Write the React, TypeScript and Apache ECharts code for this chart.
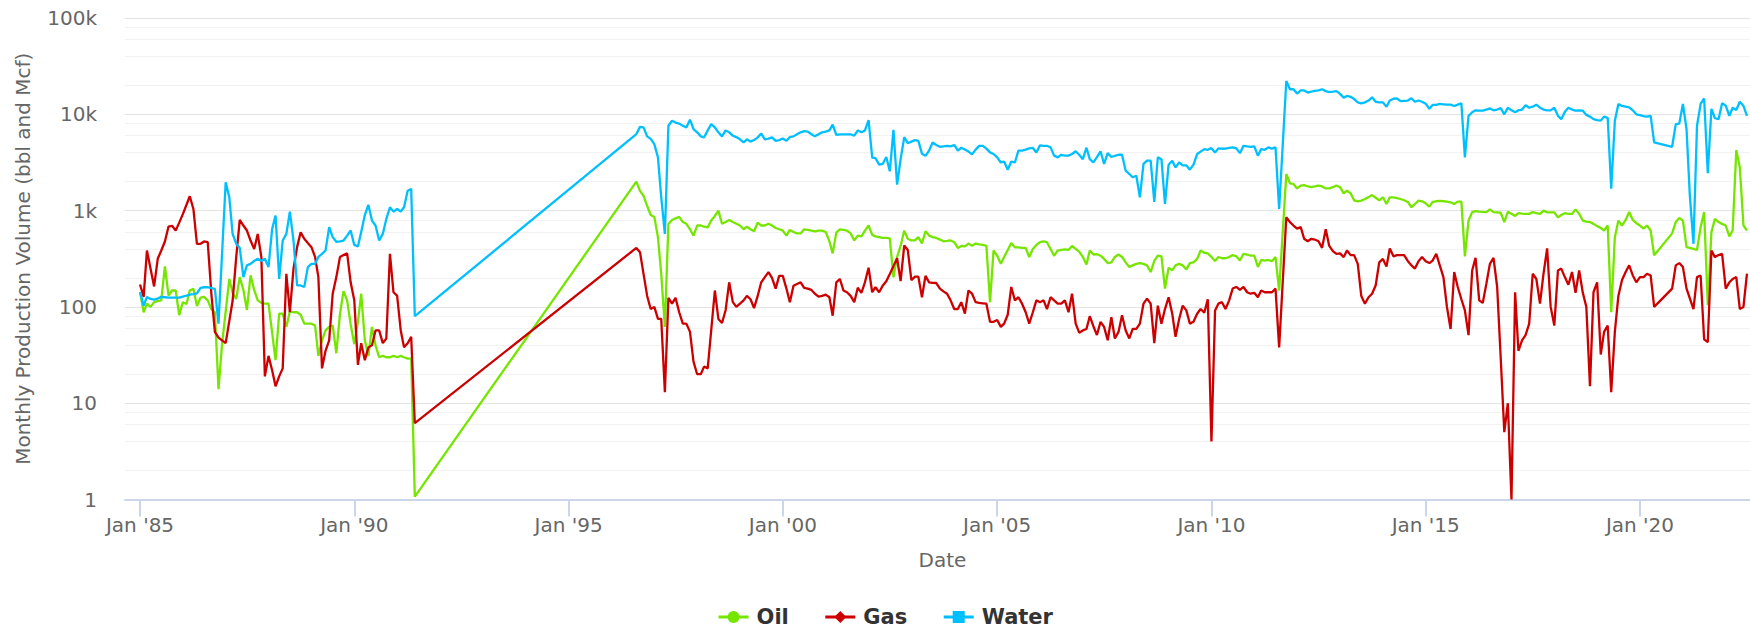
import { useEffect, useRef } from "react";
import * as echarts from "echarts";

// ---- Data (monthly production) ----
const SERIES_NAMES = ["Oil", "Gas", "Water"];
const SEG1_START = "1985-01"; // Jan 1985 .. Jun 1991
const SEG2_START = "1996-08"; // Aug 1996 .. Jul 2022

const oilSeg1 = [143, 88, 108, 100, 112, 115, 117, 263, 131, 148, 148, 82, 112, 107, 148, 154, 102, 125, 127, 117, 95, 88, 14, 41, null, 195, 140, 121, 204, 150, 93, 213, 150, 117, 110, 108, 108, 54, 28, 85, 85, 62, 90, 88, 88, 83, 67, 67, 67, 64, 31, 45, 57, 62, 64, 33, 84, 146, 117, 66, 41, 70, 137, 45, 31, 62, 40, 30, 31, 30, 30, 31, 30, 31, 30, 29, 29, 1.07];
const gasSeg1 = [171, 127, 385, null, 163, 316, 385, 478, 683, 695, 620, 750, 920, 1150, 1410, 1040, 452, 452, 478, 470, 137, 55, 48, 45, 42, null, 115, 330, 800, 700, 621, 489, 400, 573, 329, 19, 31, 22, 15, 19, 23, 221, 88, 250, 420, 595, 510, 460, 417, 330, 204, 23, 35, 45, 137, 204, 329, 345, 360, 180, 117, 25, 42, 28, 38, 40, 57, 57, 42, 47, 356, 142, 131, 57, 38, 42, 49, 6.2];
const waterSeg1 = [143, 103, 127, 121, 119, 122, 127, 126, 125, 125, 125, 125, 128, 131, 134, 136, 138, 158, 160, 160, 157, 154, 67, null, 1963, 1373, 573, 452, 410, 204, 270, 280, 300, 316, 300, 316, 259, 645, 890, 195, 489, 573, 975, 489, 167, 167, 161, 259, 280, 280, 330, 356, 385, 673, 530, 475, 480, 489, 550, 621, 440, 425, 600, 900, 1150, 788, 700, 490, 573, 820, 1084, 975, 1040, 980, 1084, 1610, 1680, 80];

const oilSeg2 = [
  2000, 1600, 1420, 1120, 900,
  860, 530, 220, 62, 727, 800, 830, 860, 760, 730, 640, 550,
  700, 700, 680, 670, 788, 880, 1000, 730, 760, 800, 760, 730,
  700, 640, 680, 640, 610, 750, 700, 700, 730, 700, 660, 640,
  620, 550, 630, 600, 580, 580, 640, 630, 620, 610, 620, 620,
  600, 480, 360, 590, 640, 630, 620, 580, 490, 550, 540, 620,
  700, 560, 540, 530, 520, 520, 515, 203, 330, 430, 620, 510,
  490, 490, 530, 455, 610, 550, 530, 520, 500, 480, 485, 490,
  470, 410, 430, 425, 455, 430, 455, 445, 440, 430, 112, 385,
  340, 280, 330, 390, 460, 415, 415, 410, 410, 329, 400, 440,
  470, 480, 470, 400, 340, 385, 390, 395, 390, 430, 400, 375,
  330, 275, 385, 350, 352, 340, 315, 285, 290, 330, 350, 330,
  290, 260, 270, 280, 285, 280, 270, 230, 300, 340, 335, 155,
  255, 240, 270, 280, 270, 245, 285, 290, 315, 385, 365, 360,
  330, 300, 330, 320, 320, 329, 345, 335, 303, 356, 350, 340,
  340, 260, 307, 303, 307, 298, 329, 148, null, 2400, 1920, 1890,
  1700, 1820, 1840, 1780, 1750, 1780, 1820, 1780, 1700, 1700, 1750, 1820,
  1750, 1510, 1610, 1510, 1280, 1250, 1270, 1320, 1380, 1450, 1360, 1280,
  1375, 1170, 1375, 1375, 1350, 1320, 1280, 1230, 1084, 1170, 1270, 1250,
  1190, 1100, 1230, 1250, 1260, 1250, 1240, 1220, 1170, 1240, 1240, 335,
  788, 965, 985, 975, 970, 965, 1030, 965, 960, 950, 760, 970,
  925, 880, 940, 930, 925, 925, 965, 940, 925, 1000, 960, 960,
  960, 850, 900, 940, 925, 925, 1030, 925, 788, 770, 760, 728,
  690, 660, 621, 700, 88, 530, 788, 700, 800, 965, 800, 740,
  700, 650, 700, 621, 343, null, null, null, null, 580, 760, 840,
  788, 417, 410, 400, 390, 673, 965, 104, 600, 820, 760, 728,
  700, 540, 621, 4250, 2810, 700, 621,
];

const gasSeg2 = [
  410, 370, 220, 130, 95,
  100, 75, 75, 13, 124, 108, 124, 88, 67, 67, 55, 27,
  20, 20, 24, 23, null, 148, 75, 68, 93, 180, 112, 100,
  108, 117, 130, 120, 97, 130, 180, 204, 230, 200, 155, 210,
  210, 155, 112, 166, 173, 180, 158, 155, 150, 137, 128, 130,
  134, 126, 81, 180, 195, 148, 142, 130, 112, 158, 140, 180,
  255, 142, 160, 142, 166, 185, 220, 265, 320, 185, 435, 390,
  190, 206, 206, 126, 210, 180, 178, 177, 155, 145, 137, 117,
  95, 95, 112, 85, 148, 137, 112, 110, 109, 108, 70, 70,
  73, 62, 67, 83, 161, 117, 126, 108, 88, 67, 88, 117,
  112, 117, 95, 126, 117, 108, 108, 117, 88, 137, 67, 54,
  57, 59, 80, 63, 51, 70, 62, 45, 78, 47, 55, 82,
  57, 47, 59, 59, 67, 108, 122, 108, 42, 103, 67, 95,
  126, 85, 49, 75, 103, 92, 67, 70, 85, 95, 87, 120,
  4, 92, 108, 112, 95, 117, 155, 161, 150, 161, 142, 137,
  140, 126, 148, 142, 142, 142, 155, 38, null, 854, 760, 700,
  650, 673, 510, 480, 510, 500, 480, 410, 640, 430, 380, 356,
  360, 329, 385, 345, 345, 280, 130, 108, 126, 137, 168, 290,
  315, 262, 405, 335, 345, 345, 345, 300, 270, 250, 298, 329,
  298, 285, 303, 356, 270, 204, 100, 59, 230, 161, 120, 92,
  51, 239, 323, 117, 110, 174, 280, 323, 161, 30, 5, 10,
  1, 142, 35, 45, 51, 67, 221, 195, 108, 221, 405, 100,
  64, 239, 250, 204, 170, 230, 140, 239, 140, 100, 15, 142,
  180, 32, 55, 64, 13, 55, 130, 190, 230, 270, 212, 180,
  204, 204, 221, 212, 100, null, null, null, null, 155, 270, 285,
  259, 155, null, 95, 204, 212, 46, 43, 385, 329, 345, 356,
  155, 180, 195, 204, 95, 100, 221,
];

const waterSeg2 = [
  6240, 7400, 7310, 5900, 5560,
  4900, 3570, 1375, 573, 7600, 8570, 8200, 8000, 7600, 7300, 8800, 7000,
  6500, 5900, 5760, 6800, 7900, 7300, 6500, 5900, 6800, 6500, 6000, 5800,
  5500, 5100, 5500, 5200, 5400, 5760, 6300, 5500, 5600, 5760, 5300, 5400,
  5600, 5300, 5800, 5900, 6200, 6500, 6700, 6600, 6200, 5900, 6200, 6500,
  6600, 6800, 7800, 6100, 6200, 6200, 6200, 6200, 6000, 6800, 6500, 6800,
  8700, 3550, 3500, 3000, 3050, 3600, 2560, 6900, 1860, 3400, 5800, 5000,
  5200, 5400, 5300, 3900, 3700, 4200, 5100, 4800, 4600, 4650, 4700, 4650,
  4800, 4200, 4500, 4300, 4100, 3830, 4300, 4700, 4700, 4400, 4020, 3870,
  3570, 3160, 3230, 2660, 3230, 3160, 4190, 4190, 4300, 4430, 4470, 4020,
  4760, 4710, 4710, 4540, 3720, 3570, 3800, 3720, 3720, 3870, 4130, 3800,
  3420, 4500, 3420, 3160, 3600, 4130, 3050, 3950, 3600, 3700, 3800, 3800,
  2600, 2400, 2220, 2300, 1375, 3050, 3300, 3300, 1230, 3570, 3420, 1170,
  3000, 3300, 2810, 3160, 2950, 2950, 2660, 3000, 3870, 4100, 4350, 4280,
  4450, 4020, 4430, 4390, 4400, 4470, 4540, 4430, 3950, 4710, 4650, 4600,
  4650, 3720, 4350, 4280, 4540, 4400, 4540, 1040, null, 22200, 18200, 18200,
  16400, 17700, 17700, 16800, 17200, 17500, 17700, 18200, 17400, 17000, 17200, 17400,
  16300, 14900, 15500, 15200, 14400, 13300, 13000, 13300, 13900, 15000, 13500, 13300,
  13300, 12000, 13900, 14500, 14600, 13700, 13800, 13900, 14700, 13500, 13900, 13500,
  12900, 11400, 12500, 12500, 12800, 12700, 12600, 12600, 12200, 12600, 13000, 3570,
  9640, 10500, 11000, 10900, 10900, 11200, 11500, 11000, 11200, 11600, 10000, 11700,
  11000, 10500, 11000, 11200, 12400, 11700, 12000, 12600, 11700, 11200, 11000, 11000,
  11700, 9640, 8900, 10600, 11700, 11200, 10900, 11000, 10900, 9860, 9460, 8900,
  8700, 8600, 9460, 9200, 1690, 8570, 12800, 12200, 12000, 11800, 11000, 10000,
  9800, 9600, 9460, 9640, 5110, null, null, null, null, 4600, 7910, 8000,
  12800, 7000, 1440, 452, 7600, 12800, 14600, 2450, 11400, 9100, 8900, 13000,
  12300, 9640, 11700, 11100, 13500, 12200, 9640,
];

const X_TICK_DATES = ["1985-01-01", "1990-01-01", "1995-01-01", "2000-01-01", "2005-01-01", "2010-01-01", "2015-01-01", "2020-01-01"];
const X_MIN_DATE = "1984-08-26";
const X_MAX_DATE = "2022-10-20";
const MINOR_GRID_VALUES = [2, 4, 6, 8, 20, 40, 60, 80, 200, 400, 600, 800, 2000, 4000, 6000, 8000, 20000, 40000, 60000, 80000];

const COLORS = { Oil: "#76E600", Gas: "#CC0000", Water: "#00BFFF" };
const SYMBOLS = { Oil: "circle", Gas: "diamond", Water: "rect" };
const FONT = "DejaVu Sans";

function utc(d: string) {
  const [y, m, day] = d.split("-").map(Number);
  return Date.UTC(y, m - 1, day || 1);
}

function monthly(start: string, values: (number | null)[]) {
  const [y, m] = start.split("-").map(Number);
  return values.map((v, i) => [Date.UTC(y, m - 1 + i, 1), v]);
}

export default function App() {
  const ref = useRef<HTMLDivElement>(null);

  useEffect(() => {
    if (!ref.current) return;
    const chart = echarts.init(ref.current, undefined, { renderer: "svg" });
    const tickTimes = X_TICK_DATES.map(utc);
    const seriesData: Record<string, any[]> = {
      Oil: [...monthly(SEG1_START, oilSeg1), ...monthly(SEG2_START, oilSeg2)],
      Gas: [...monthly(SEG1_START, gasSeg1), ...monthly(SEG2_START, gasSeg2)],
      Water: [...monthly(SEG1_START, waterSeg1), ...monthly(SEG2_START, waterSeg2)],
    };

    const option: any = {
      animation: false,
      backgroundColor: "#ffffff",
      textStyle: { fontFamily: FONT },
      grid: { left: 125, right: 10, top: 18, bottom: 128.5 },
      legend: {
        data: SERIES_NAMES,
        left: "center",
        top: 601,
        itemWidth: 30,
        itemHeight: 15,
        itemGap: 35,
        lineStyle: { width: 3 },
        textStyle: { fontSize: 21, lineHeight: 22, fontWeight: "bold", color: "#333333", fontFamily: FONT, padding: [0, 0, 0, 3] },
      },
      xAxis: {
        type: "value",
        min: utc(X_MIN_DATE),
        max: utc(X_MAX_DATE),
        name: "Date",
        nameLocation: "middle",
        nameGap: 50,
        nameTextStyle: { fontSize: 20, color: "#666666", fontFamily: FONT },
        axisLine: { show: true, lineStyle: { color: "#ccd6eb", width: 2 } },
        axisTick: { show: true, customValues: tickTimes, length: 17, lineStyle: { color: "#ccd6eb", width: 2 } },
        axisLabel: {
          customValues: tickTimes,
          fontSize: 20,
          color: "#666666",
          margin: 15,
          fontFamily: FONT,
          showMinLabel: true,
          showMaxLabel: true,
          formatter: (v: number) => "Jan '" + String(new Date(v).getUTCFullYear()).slice(2),
        },
        splitLine: { show: false },
      },
      yAxis: {
        type: "log",
        logBase: 10,
        min: 1,
        max: 100000,
        name: "Monthly Production Volume (bbl and Mcf)",
        nameLocation: "middle",
        nameGap: 92,
        nameTextStyle: { fontSize: 20, color: "#666666", fontFamily: FONT },
        axisLine: { show: false },
        axisTick: { show: false },
        axisLabel: {
          fontSize: 20,
          color: "#666666",
          margin: 28,
          fontFamily: FONT,
          formatter: (v: number) => (v >= 1000 ? Math.round(v / 1000) + "k" : String(Math.round(v))),
        },
        splitLine: { show: true, lineStyle: { color: "#e3e3e3", width: 1 } },
      },
      series: [
        {
          name: "minor-grid",
          type: "line",
          data: [],
          silent: true,
          markLine: {
            silent: true,
            z: 1,
            symbol: ["none", "none"],
            label: { show: false },
            emphasis: { disabled: true },
            lineStyle: { color: "#f2f2f2", width: 1, type: "solid" },
            data: MINOR_GRID_VALUES.map((v) => ({ yAxis: v })),
          },
        },
        ...SERIES_NAMES.map((name, i) => ({
          name,
          type: "line",
          data: seriesData[name],
          symbol: (SYMBOLS as any)[name],
          showSymbol: false,
          connectNulls: true,
          z: 3 + i,
          color: (COLORS as any)[name],
          lineStyle: { color: (COLORS as any)[name], width: 2.3 },
          itemStyle: { color: (COLORS as any)[name] },
          emphasis: { disabled: true },
        })),
      ],
    };
    chart.setOption(option);
    return () => chart.dispose();
  }, []);

  return (
    <div style={{ position: "absolute", left: 0, top: 0, width: 1750, height: 628, overflow: "hidden", background: "#fff" }}>
      <div ref={ref} style={{ width: 1770, height: 628 }} />
    </div>
  );
}
